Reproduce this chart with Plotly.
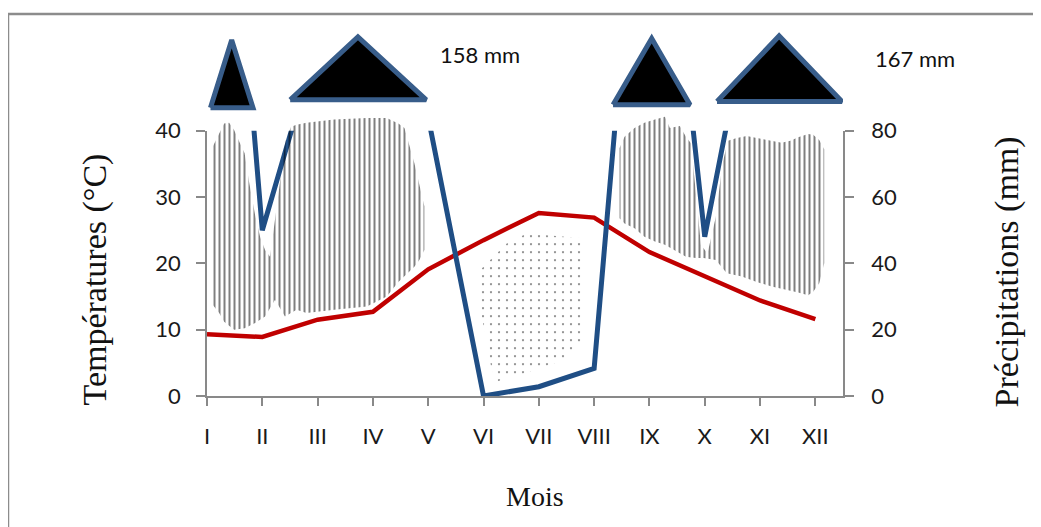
import plotly.graph_objects as go

# ---------------- data ----------------
months = ["I", "II", "III", "IV", "V", "VI", "VII", "VIII", "IX", "X", "XI", "XII"]
month_pos = list(range(12))
temperature = [9.3, 8.9, 11.5, 12.7, 19.1, 23.5, 27.6, 26.9, 21.7, 18.0, 14.4, 11.6]   # °C
precipitation = [250, 50, 107, 158, 84, 0, 2.8, 8.3, 202, 48, 133, 167]               # mm

temp_ticks = [0, 10, 20, 30, 40]
prec_ticks = [0, 20, 40, 60, 80]

# humid period (vertical hatching), in month index / °C
humid1_x = [0.11, 0.22, 0.31, 0.40, 0.49, 0.58, 0.68, 0.76, 0.87, 0.96, 1.05, 1.14, 1.22, 1.32, 1.42, 1.52,
            1.62, 1.80, 2.30, 2.89, 3.25, 3.46, 3.57, 3.75, 3.84, 3.93,
            3.93, 3.84, 3.75, 3.57, 3.46, 3.25, 2.89, 2.30, 1.80, 1.62, 1.41, 1.23, 1.05, 0.87, 0.68,
            0.49, 0.31, 0.22, 0.11]
humid1_y = [37.7, 39.5, 41.1, 41.2, 40.1, 38.4, 36.6, 32.3, 27.3, 24.0, 22.0, 21.0, 26.0, 33.0, 38.5, 40.6,
            40.9, 41.2, 41.7, 41.9, 41.9, 41.1, 40.4, 35.1, 31.8, 28.6,
            22.0, 20.5, 19.5, 18.0, 17.2, 15.0, 13.5, 13.0, 12.5, 13.0, 12.0, 14.5, 12.0, 11.0, 10.2,
            10.0, 11.2, 12.5, 13.7]
humid2_x = [7.46, 7.55, 7.73, 7.91, 8.10, 8.28, 8.37, 8.55, 8.66, 8.75, 8.84, 8.93, 9.05, 9.20, 9.32, 9.42,
            9.58, 9.76, 9.94, 10.12, 10.39, 10.55, 10.69, 10.87, 10.96, 11.07, 11.16,
            11.16, 11.07, 10.96, 10.87, 10.69, 10.48, 10.21, 9.94, 9.67, 9.40, 9.20, 8.98, 8.84, 8.66,
            8.46, 8.28, 8.10, 7.91, 7.73, 7.55, 7.46]
humid2_y = [37.4, 39.1, 40.4, 41.2, 41.7, 42.1, 40.4, 40.7, 39.1, 38.1, 30.6, 22.8, 21.5, 27.0, 35.0, 38.5,
            38.9, 39.2, 38.9, 38.6, 38.2, 38.5, 39.0, 39.5, 39.4, 38.6, 37.2,
            20.0, 17.0, 15.7, 15.2, 15.6, 16.0, 16.5, 17.2, 18.0, 18.5, 20.5, 20.8, 20.8, 21.0,
            22.0, 22.8, 23.3, 24.0, 25.3, 26.0, 26.8]
# dry period (dots)
dry_x = [5.78, 6.80, 6.80, 6.44, 5.66, 5.24, 5.15, 4.97, 4.94, 5.15, 5.42]
dry_y = [24.5, 23.8, 8.4, 5.4, 3.2, 2.2, 3.9, 12.0, 19.0, 20.8, 23.0]

# over-scale precipitation markers (mm, continuing the right scale above 80)
peaks_x = [[0.063, 0.446, 0.832, 0.063], [1.504, 2.729, 3.964, 1.504],
           [7.342, 8.041, 8.734, 7.342], [9.222, 10.345, 11.482, 9.222]]
peaks_y = [[86.9, 107.4, 86.9, 86.9], [89.3, 108.3, 89.3, 89.3],
           [87.8, 107.8, 87.8, 87.8], [88.8, 108.6, 88.8, 88.8]]
peak_labels = ["158 mm", "167 mm"]

# ---------------- figure ----------------
AX = "#898989"
TICKFONT = dict(family="Lato", size=22, color="#1a1a1a")
SERIF = "Liberation Serif"

fig = go.Figure()

for hx, hy in [(humid1_x, humid1_y), (humid2_x, humid2_y)]:
    fig.add_trace(go.Scatter(
        x=hx, y=hy, mode="lines", fill="toself", line=dict(width=0),
        fillcolor="rgba(0,0,0,0)",
        fillpattern=dict(shape="|", size=5, solidity=0.4, fgcolor="#000000",
                         bgcolor="rgba(255,255,255,0)"),
        hoverinfo="skip", showlegend=False, xaxis="x", yaxis="y4"))

fig.add_trace(go.Scatter(
    x=dry_x, y=dry_y, mode="lines", fill="toself", line=dict(width=0),
    fillcolor="rgba(0,0,0,0)",
    fillpattern=dict(shape=".", size=8, solidity=0.06, fgcolor="#000000",
                     bgcolor="rgba(255,255,255,0)"),
    hoverinfo="skip", showlegend=False, xaxis="x", yaxis="y4"))

fig.add_trace(go.Scatter(
    x=month_pos, y=temperature, mode="lines", line=dict(color="#C00000", width=4.5),
    name="Températures", showlegend=False, xaxis="x", yaxis="y"))

fig.add_trace(go.Scatter(
    x=month_pos, y=precipitation, mode="lines", line=dict(color="#1F4E85", width=5),
    name="Précipitations", showlegend=False, xaxis="x", yaxis="y2"))

for px_, py_ in zip(peaks_x, peaks_y):
    fig.add_trace(go.Scatter(
        x=px_, y=py_, mode="lines", fill="toself", fillcolor="black",
        line=dict(color="#385D8A", width=5), hoverinfo="skip",
        showlegend=False, xaxis="x", yaxis="y3"))

MAIN_TOP = 0.7056            # 40 °C / 80 mm
HATCH_TOP = MAIN_TOP * 44 / 40

fig.update_layout(
    width=1033, height=519,
    margin=dict(l=199, r=198, t=12, b=131, autoexpand=False),
    paper_bgcolor="white", plot_bgcolor="rgba(0,0,0,0)",
    showlegend=False,
    xaxis=dict(range=[0, 11.5], tickvals=month_pos, ticktext=months,
               ticks="outside", ticklen=8, tickwidth=1.5, tickcolor=AX,
               showline=True, linecolor=AX, linewidth=1.5,
               showgrid=False, zeroline=False, tickfont=TICKFONT,
               ticklabelstandoff=12, anchor="y", automargin=False),
    yaxis=dict(domain=[0, MAIN_TOP], range=[0, 40], tickvals=temp_ticks,
               ticks="outside", ticklen=9, tickwidth=1.5, tickcolor=AX,
               showline=True, linecolor=AX, linewidth=1.5,
               showgrid=False, zeroline=False, tickfont=TICKFONT,
               ticklabelstandoff=11, anchor="x", automargin=False),
    yaxis2=dict(range=[0, 80], tickvals=prec_ticks, overlaying="y", side="right",
                ticks="outside", ticklen=9, tickwidth=1.5, tickcolor=AX,
                showline=True, linecolor=AX, linewidth=1.5,
                showgrid=False, zeroline=False, tickfont=TICKFONT,
                ticklabelstandoff=13, anchor="x", automargin=False),
    yaxis3=dict(domain=[MAIN_TOP, 1], range=[80, 113.4], visible=False, anchor="x"),
    yaxis4=dict(domain=[0, HATCH_TOP], range=[0, 44], visible=False, anchor="x"),
)

def label(text, x, y, size, family, angle=0):
    fig.add_annotation(text=text, xref="paper", yref="paper", x=x, y=y,
                       xanchor="center", yanchor="middle", textangle=angle,
                       showarrow=False, font=dict(family=family, size=size, color="#111111"))

label("Températures (°C)", -0.1761, 0.3098, 34, SERIF, -90)
label("Précipitations (mm)", 1.2574, 0.3306, 34, SERIF, -90)
label("Mois", 0.5157, -0.2686, 28, SERIF)
label(peak_labels[0], 0.430, 0.9082, 22, "Lato")
label(peak_labels[1], 1.1132, 0.8963, 22, "Lato")

# outer chart frame
fig.add_shape(type="line", xref="paper", yref="paper", x0=-0.3129, y0=-0.35, x1=-0.3129, y1=1.016,
              line=dict(color="#8c8c8c", width=2.5))
fig.add_shape(type="line", xref="paper", yref="paper", x0=-0.3129, y0=1.016, x1=1.32, y1=1.016,
              line=dict(color="#8c8c8c", width=2.5))

fig.write_html("out.html")
